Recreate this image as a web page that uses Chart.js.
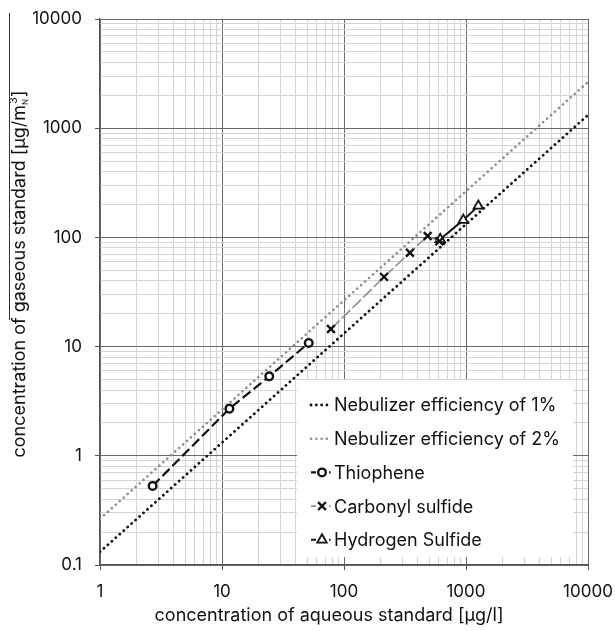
<!DOCTYPE html>
<html><head><meta charset="utf-8">
<script src="https://cdn.jsdelivr.net/npm/chart.js@4.4.1/dist/chart.umd.min.js"></script>
<style>html,body{margin:0;padding:0;background:#fff;} canvas{display:block;}</style>
</head><body>
<canvas id="c" width="615" height="631"></canvas>
<script>
const FONT = 'Inter, "Liberation Sans", Arial, sans-serif';

const seriesLabels = ['Nebulizer efficiency of 1%', 'Nebulizer efficiency of 2%', 'Thiophene', 'Carbonyl sulfide', 'Hydrogen Sulfide'];
const neb1X = [1, 10000];
const neb1Y = [0.132, 1320];
const neb2X = [1, 10000];
const neb2Y = [0.265, 2650];
const thioX = [2.7, 11.5, 24.4, 51.4];
const thioY = [0.53, 2.7, 5.34, 10.8];
const cosX = [78.2, 213, 347, 485, 605];
const cosY = [14.5, 43.5, 72.4, 103, 92];
const h2sX = [615, 951, 1262];
const h2sY = [96, 144, 194];
const xMajor = [1, 10, 100, 1000, 10000];
const xTickLabels = ['1', '10', '100', '1000', '10000'];
const yMajor = [0.1, 1, 10, 100, 1000, 10000];
const yTickLabels = ['0.1', '1', '10', '100', '1000', '10000'];
const xTitle = 'concentration of aqueous standard [µg/l]';
const yTitleMain = 'concentration of gaseous standard [µg/m';
const yTitleSub = 'N';
const yTitleSup = '3';
const yTitleEnd = ']';

function allTicks(majors) {
  const out = [];
  for (let i = 0; i < majors.length - 1; i++) {
    for (let k = 1; k <= 9; k++) out.push(majors[i] * k);
  }
  out.push(majors[majors.length - 1]);
  return out;
}
function majorIndex(majors, v) {
  return majors.findIndex(m => Math.abs(v / m - 1) < 1e-6);
}
function pts(xs, ys) { return xs.map((x, i) => ({ x: x, y: ys[i] })); }

const MAJOR = '#6a6a6a', MINOR = '#d4d4d4';

function gridColorFor(majors) {
  return (ctx) => (ctx.tick && majorIndex(majors, ctx.tick.value) >= 0) ? MAJOR : MINOR;
}
function tickColorFor(majors) {
  return (ctx) => (ctx.tick && majorIndex(majors, ctx.tick.value) >= 0) ? '#555' : 'rgba(0,0,0,0)';
}

const legendPlugin = {
  id: 'insideLegend',
  afterDraw(chart) {
    const ctx = chart.ctx, a = chart.chartArea;
    const bx = a.left + 197, by = a.top + 361, bw = 276, bh = 177;
    ctx.save();
    ctx.fillStyle = '#fff';
    ctx.fillRect(bx, by, bw, bh);
    ctx.font = '18px ' + FONT;
    ctx.textBaseline = 'middle';
    ctx.textAlign = 'left';
    chart.data.datasets.forEach((ds, i) => {
      const y = by + 25 + i * 33.7;
      const x0 = bx + 14, x1 = bx + 34, xm = bx + 25;
      ctx.save();
      ctx.strokeStyle = ds.borderColor;
      ctx.lineWidth = ds.borderWidth;
      ctx.lineCap = ds.borderCapStyle || 'butt';
      ctx.setLineDash(ds.legendDash || ds.borderDash || []);
      ctx.beginPath();
      ctx.moveTo(x0, y); ctx.lineTo(x1, y);
      ctx.stroke();
      ctx.restore();
      if (ds.pointRadius > 0) {
        ctx.save();
        ctx.setLineDash([]);
        ctx.fillStyle = ds.pointBackgroundColor;
        ctx.strokeStyle = ds.pointBorderColor;
        ctx.lineWidth = ds.pointBorderWidth;
        Chart.helpers.drawPoint(ctx, { pointStyle: ds.pointStyle, radius: ds.pointRadius, rotation: 0, borderWidth: ds.pointBorderWidth }, xm, y);
        ctx.restore();
      }
      ctx.fillStyle = '#111';
      ctx.fillText(ds.label, bx + 37, y + 1);
    });
    ctx.restore();
  }
};

const titlePlugin = {
  id: 'axisTitles',
  afterDraw(chart) {
    const ctx = chart.ctx, a = chart.chartArea;
    ctx.save();
    ctx.fillStyle = '#111';
    ctx.font = '18px ' + FONT;
    ctx.textAlign = 'center';
    ctx.textBaseline = 'middle';
    ctx.fillText(xTitle, a.left + 229, a.bottom + 51);
    // y title with subscript / superscript
    ctx.translate(a.left - 75, a.top + 255);
    ctx.rotate(-Math.PI / 2);
    ctx.textAlign = 'left';
    ctx.textBaseline = 'alphabetic';
    const big = '18px ' + FONT, sub = '8px ' + FONT, sup = '11px ' + FONT;
    ctx.font = big; const w1 = ctx.measureText(yTitleMain).width;
    ctx.font = sub; const w2 = ctx.measureText(yTitleSub).width;
    ctx.font = sup; const w3 = ctx.measureText(yTitleSup).width;
    ctx.font = big; const w4 = ctx.measureText(yTitleEnd).width;
    const total = w1 + Math.max(w2, w3) + w4 + 1;
    let x = -total / 2;
    ctx.font = big; ctx.fillText(yTitleMain, x, 0); x += w1;
    ctx.font = sub; ctx.fillText(yTitleSub, x, 3);
    ctx.font = sup; ctx.fillText(yTitleSup, x + 1, -8);
    x += Math.max(w2, w3) + 1;
    ctx.font = big; ctx.fillText(yTitleEnd, x, 0);
    ctx.restore();
    // thin rule to the left of the y title
    ctx.save();
    ctx.strokeStyle = '#333';
    ctx.lineWidth = 1;
    ctx.beginPath();
    ctx.moveTo(9.5, a.top - 6);
    ctx.lineTo(9.5, a.top + 301);
    ctx.stroke();
    ctx.restore();
  }
};

new Chart(document.getElementById('c'), {
  type: 'line',
  data: {
    datasets: [
      { label: seriesLabels[0], data: pts(neb1X, neb1Y), borderColor: '#111', borderWidth: 2.8,
        borderDash: [0.01, 5.3], borderCapStyle: 'round', pointRadius: 0, order: 3 },
      { label: seriesLabels[1], data: pts(neb2X, neb2Y), borderColor: '#8c8c8c', borderWidth: 2.6,
        borderDash: [0.01, 5.3], borderCapStyle: 'round', pointRadius: 0, order: 4 },
      { label: seriesLabels[2], data: pts(thioX, thioY), borderColor: '#111', borderWidth: 2.2,
        borderDash: [10, 4], legendDash: [5, 13, 1.6, 20], pointStyle: 'circle', pointRadius: 3.8, pointBorderWidth: 2.4,
        pointBorderColor: '#111', pointBackgroundColor: '#fff', order: 1 },
      { label: seriesLabels[3], data: pts(cosX, cosY), borderColor: '#8c8c8c', borderWidth: 1.6,
        borderDash: [12, 3], legendDash: [5, 13, 1.6, 20], pointStyle: 'crossRot', pointRadius: 5.5, pointBorderWidth: 2.4,
        pointBorderColor: '#111', pointBackgroundColor: '#111', order: 1 },
      { label: seriesLabels[4], data: pts(h2sX, h2sY), borderColor: '#111', borderWidth: 2,
        borderDash: [], legendDash: [5, 13, 1.6, 20], pointStyle: 'triangle', pointRadius: 5.5, pointBorderWidth: 1.8,
        pointBorderColor: '#111', pointBackgroundColor: '#fff', order: 1 }
    ]
  },
  options: {
    responsive: false,
    animation: false,
    devicePixelRatio: 1,
    layout: { padding: { top: 19, right: 27, left: 0, bottom: 0 } },
    plugins: { legend: { display: false }, tooltip: { enabled: false }, title: { display: false } },
    elements: { line: { tension: 0, fill: false } },
    scales: {
      x: {
        type: 'logarithmic', min: 1, max: 10000, position: 'bottom',
        afterBuildTicks: (s) => { s.ticks = allTicks(xMajor).map(v => ({ value: v })); },
        afterFit: (s) => { s.height = 66; s.paddingLeft = 0; s.paddingRight = 0; },
        ticks: {
          autoSkip: false, maxRotation: 0, minRotation: 0, padding: 12, color: '#111',
          font: { family: FONT, size: 17 },
          callback: (v) => { const i = majorIndex(xMajor, v); return i >= 0 ? xTickLabels[i] : ''; }
        },
        grid: { color: gridColorFor(xMajor), lineWidth: 1, tickLength: 5, tickColor: tickColorFor(xMajor), tickWidth: 1 },
        border: { display: true, color: '#555', width: 1.2 }
      },
      y: {
        type: 'logarithmic', min: 0.1, max: 10000, position: 'left',
        afterBuildTicks: (s) => { s.ticks = allTicks(yMajor).map(v => ({ value: v })); },
        afterFit: (s) => { s.width = 100; s.paddingTop = 0; s.paddingBottom = 0; },
        ticks: {
          autoSkip: false, padding: 13, color: '#111',
          font: { family: FONT, size: 17 },
          callback: (v) => { const i = majorIndex(yMajor, v); return i >= 0 ? yTickLabels[i] : ''; }
        },
        grid: { color: gridColorFor(yMajor), lineWidth: 1, tickLength: 5, tickColor: tickColorFor(yMajor), tickWidth: 1 },
        border: { display: true, color: '#555', width: 1.2 }
      }
    }
  },
  plugins: [legendPlugin, titlePlugin]
});
</script>
</body></html>
